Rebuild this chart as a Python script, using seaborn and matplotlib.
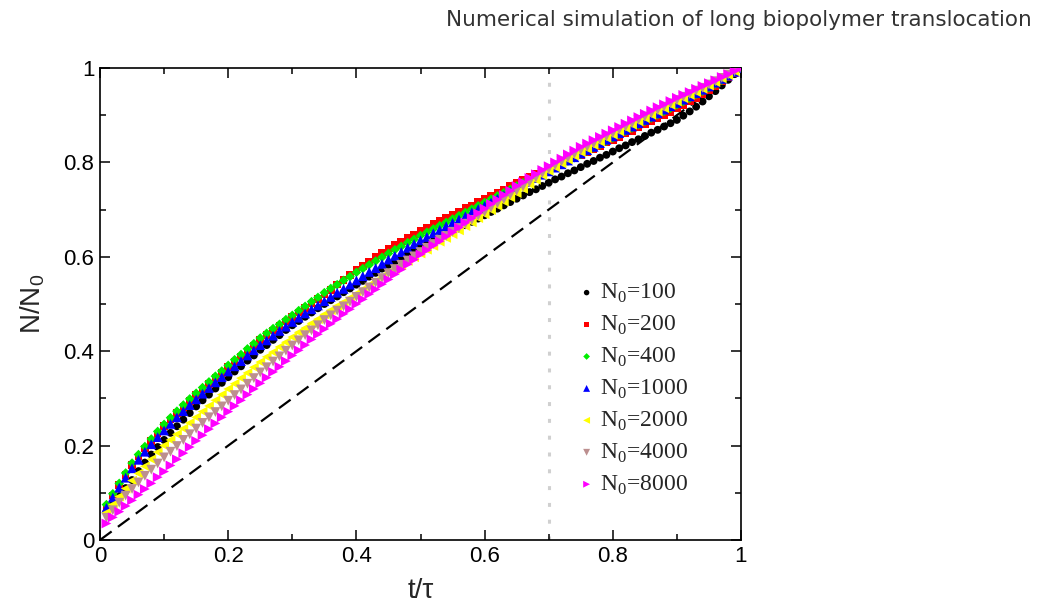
import numpy as np
import pandas as pd
import matplotlib
matplotlib.use("Agg")
import matplotlib.pyplot as plt
import seaborn as sns

# ---------------- data ----------------
t_vals = [round(0.01 * i, 2) for i in range(1, 101)]

n100 = [0.060, 0.076, 0.093, 0.110, 0.127, 0.146, 0.164, 0.181, 0.197, 0.212,
        0.227, 0.241, 0.255, 0.269, 0.283, 0.296, 0.308, 0.321, 0.333, 0.345,
        0.357, 0.368, 0.380, 0.391, 0.403, 0.413, 0.424, 0.434, 0.445, 0.455,
        0.464, 0.473, 0.482, 0.491, 0.500, 0.508, 0.516, 0.525, 0.533, 0.541,
        0.549, 0.558, 0.566, 0.575, 0.583, 0.590, 0.598, 0.605, 0.613, 0.620,
        0.627, 0.633, 0.640, 0.646, 0.653, 0.660, 0.667, 0.674, 0.681, 0.688,
        0.695, 0.702, 0.709, 0.716, 0.723, 0.730, 0.737, 0.743, 0.750, 0.757,
        0.764, 0.770, 0.777, 0.783, 0.790, 0.797, 0.803, 0.810, 0.816, 0.823,
        0.830, 0.836, 0.843, 0.849, 0.856, 0.863, 0.869, 0.876, 0.883, 0.890,
        0.899, 0.908, 0.918, 0.929, 0.940, 0.951, 0.963, 0.975, 0.987, 1.000]

n200 = [0.071, 0.094, 0.116, 0.138, 0.159, 0.177, 0.194, 0.210, 0.226, 0.241,
        0.255, 0.269, 0.282, 0.295, 0.307, 0.319, 0.331, 0.343, 0.354, 0.366,
        0.378, 0.389, 0.401, 0.412, 0.424, 0.434, 0.444, 0.453, 0.463, 0.472,
        0.482, 0.491, 0.501, 0.510, 0.520, 0.530, 0.541, 0.551, 0.562, 0.572,
        0.581, 0.590, 0.599, 0.608, 0.617, 0.625, 0.632, 0.640, 0.647, 0.655,
        0.662, 0.669, 0.676, 0.683, 0.690, 0.696, 0.703, 0.709, 0.716, 0.722,
        0.729, 0.736, 0.743, 0.750, 0.757, 0.763, 0.769, 0.775, 0.781, 0.787,
        0.793, 0.799, 0.804, 0.810, 0.816, 0.822, 0.829, 0.835, 0.842, 0.848,
        0.854, 0.861, 0.867, 0.874, 0.880, 0.887, 0.894, 0.900, 0.907, 0.914,
        0.922, 0.929, 0.937, 0.944, 0.952, 0.962, 0.971, 0.981, 0.990, 1.000]

n400 = [0.075, 0.098, 0.120, 0.142, 0.163, 0.181, 0.198, 0.214, 0.230, 0.245,
        0.259, 0.273, 0.286, 0.299, 0.311, 0.323, 0.335, 0.347, 0.358, 0.370,
        0.382, 0.393, 0.405, 0.416, 0.428, 0.438, 0.448, 0.457, 0.467, 0.476,
        0.486, 0.495, 0.505, 0.514, 0.524, 0.533, 0.541, 0.550, 0.558, 0.567,
        0.575, 0.583, 0.591, 0.599, 0.607, 0.615, 0.622, 0.630, 0.637, 0.645,
        0.652, 0.659, 0.666, 0.673, 0.680, 0.687, 0.694, 0.701, 0.708, 0.715,
        0.722, 0.729, 0.736, 0.743, 0.750, 0.757, 0.763, 0.770, 0.776, 0.783,
        0.790, 0.797, 0.803, 0.810, 0.817, 0.824, 0.831, 0.838, 0.845, 0.852,
        0.859, 0.866, 0.873, 0.880, 0.887, 0.894, 0.901, 0.908, 0.915, 0.922,
        0.929, 0.936, 0.944, 0.951, 0.958, 0.966, 0.974, 0.983, 0.991, 1.000]

n1000 = [0.068, 0.090, 0.111, 0.132, 0.152, 0.170, 0.187, 0.203, 0.218, 0.232,
         0.246, 0.260, 0.273, 0.286, 0.298, 0.310, 0.322, 0.334, 0.345, 0.357,
         0.368, 0.379, 0.391, 0.402, 0.413, 0.423, 0.433, 0.443, 0.452, 0.462,
         0.471, 0.480, 0.489, 0.497, 0.506, 0.515, 0.524, 0.532, 0.541, 0.550,
         0.559, 0.568, 0.576, 0.585, 0.594, 0.602, 0.610, 0.619, 0.627, 0.635,
         0.642, 0.650, 0.657, 0.665, 0.672, 0.679, 0.686, 0.694, 0.701, 0.708,
         0.715, 0.723, 0.730, 0.738, 0.745, 0.752, 0.759, 0.767, 0.774, 0.781,
         0.789, 0.796, 0.804, 0.811, 0.819, 0.826, 0.833, 0.841, 0.848, 0.855,
         0.862, 0.869, 0.876, 0.883, 0.890, 0.897, 0.904, 0.912, 0.919, 0.926,
         0.933, 0.940, 0.947, 0.954, 0.961, 0.969, 0.977, 0.984, 0.992, 1.000]

n2000 = [0.058, 0.075, 0.092, 0.109, 0.126, 0.141, 0.156, 0.171, 0.186, 0.200,
         0.212, 0.224, 0.236, 0.248, 0.260, 0.272, 0.284, 0.296, 0.308, 0.320,
         0.331, 0.343, 0.354, 0.366, 0.377, 0.388, 0.398, 0.409, 0.419, 0.430,
         0.440, 0.449, 0.459, 0.468, 0.478, 0.487, 0.496, 0.504, 0.513, 0.522,
         0.531, 0.540, 0.548, 0.557, 0.566, 0.574, 0.582, 0.591, 0.599, 0.607,
         0.615, 0.623, 0.632, 0.640, 0.648, 0.656, 0.665, 0.673, 0.682, 0.690,
         0.699, 0.708, 0.717, 0.726, 0.735, 0.744, 0.754, 0.763, 0.773, 0.782,
         0.790, 0.798, 0.806, 0.814, 0.822, 0.829, 0.837, 0.844, 0.852, 0.859,
         0.866, 0.873, 0.880, 0.887, 0.894, 0.901, 0.908, 0.915, 0.922, 0.929,
         0.936, 0.943, 0.949, 0.956, 0.963, 0.970, 0.978, 0.985, 0.993, 1.000]

n4000 = [0.047, 0.063, 0.079, 0.094, 0.108, 0.122, 0.136, 0.149, 0.162, 0.175,
         0.187, 0.199, 0.212, 0.224, 0.236, 0.248, 0.260, 0.271, 0.283, 0.295,
         0.307, 0.319, 0.331, 0.343, 0.355, 0.366, 0.378, 0.389, 0.401, 0.412,
         0.423, 0.434, 0.444, 0.455, 0.466, 0.476, 0.486, 0.495, 0.505, 0.515,
         0.525, 0.535, 0.545, 0.555, 0.565, 0.574, 0.583, 0.592, 0.601, 0.610,
         0.619, 0.627, 0.636, 0.644, 0.653, 0.661, 0.670, 0.678, 0.687, 0.695,
         0.704, 0.713, 0.722, 0.731, 0.740, 0.749, 0.758, 0.768, 0.777, 0.786,
         0.794, 0.802, 0.810, 0.818, 0.826, 0.833, 0.840, 0.848, 0.855, 0.862,
         0.869, 0.876, 0.883, 0.890, 0.897, 0.904, 0.911, 0.918, 0.925, 0.932,
         0.939, 0.945, 0.952, 0.958, 0.965, 0.972, 0.979, 0.986, 0.993, 1.000]

n8000 = [0.035, 0.048, 0.060, 0.072, 0.084, 0.096, 0.108, 0.120, 0.133, 0.145,
         0.158, 0.171, 0.184, 0.197, 0.210, 0.222, 0.235, 0.247, 0.260, 0.272,
         0.284, 0.296, 0.308, 0.320, 0.332, 0.344, 0.356, 0.367, 0.379, 0.391,
         0.402, 0.413, 0.425, 0.436, 0.447, 0.458, 0.468, 0.479, 0.489, 0.500,
         0.510, 0.521, 0.531, 0.542, 0.552, 0.563, 0.573, 0.584, 0.594, 0.605,
         0.614, 0.624, 0.633, 0.643, 0.652, 0.662, 0.672, 0.682, 0.692, 0.702,
         0.712, 0.721, 0.731, 0.740, 0.750, 0.758, 0.767, 0.775, 0.784, 0.792,
         0.800, 0.808, 0.817, 0.825, 0.833, 0.840, 0.847, 0.854, 0.861, 0.868,
         0.875, 0.882, 0.889, 0.896, 0.903, 0.910, 0.917, 0.923, 0.930, 0.937,
         0.943, 0.949, 0.956, 0.962, 0.968, 0.974, 0.981, 0.987, 0.994, 1.000]

series_labels = ["100", "200", "400", "1000", "2000", "4000", "8000"]
series_values = [n100, n200, n400, n1000, n2000, n4000, n8000]

ref_t = [0.0, 1.0]          # dashed reference line N/N0 = t/tau
ref_y = [0.0, 1.0]
vline_t = 0.7               # dotted vertical marker

x_ticks = [0, 0.2, 0.4, 0.6, 0.8, 1]
x_ticklabels = ["0", "0.2", "0.4", "0.6", "0.8", "1"]
y_ticks = [0, 0.2, 0.4, 0.6, 0.8, 1]
y_ticklabels = ["0", "0.2", "0.4", "0.6", "0.8", "1"]

title_text = "Numerical simulation of long biopolymer translocation"

# ---------------- styling ----------------
colors = ["#000000", "#ff0000", "#00ee00", "#0000ff", "#ffff00", "#bc8f8f", "#ff00ff"]
markers = ["o", "s", "D", "^", "<", "v", ">"]
sizes = [32, 30, 24, 50, 50, 50, 50]

sns.set_theme(style="ticks")
plt.rcParams["font.family"] = ["Liberation Sans", "DejaVu Sans"]
plt.rcParams["mathtext.fontset"] = "custom"
plt.rcParams["mathtext.rm"] = "Liberation Serif"
plt.rcParams["mathtext.sf"] = "Liberation Sans"

fig = plt.figure(figsize=(10.4, 6.02), dpi=100)
ax = fig.add_axes([100 / 1040, 1 - 540 / 602, 641 / 1040, 472 / 602])

# reference lines
sns.lineplot(x=ref_t, y=ref_y, ax=ax, color="black", lw=1.6, zorder=1,
             estimator=None, sort=False)
ax.lines[-1].set_dashes((6.5, 3.5))
ax.axvline(vline_t, color="#d0d0d0", lw=2.2, dashes=(1.3, 4.2), zorder=0.5)

for i, (lab, vals) in enumerate(zip(series_labels, series_values)):
    df = pd.DataFrame({"t": t_vals, "n": vals})
    sns.scatterplot(data=df, x="t", y="n", ax=ax, marker=markers[i],
                    color=colors[i], s=sizes[i], linewidth=0, edgecolor="none",
                    label=r"N$_0$=" + lab, zorder=2 + i)

ax.set_xlim(0, 1)
ax.set_ylim(0, 1)
ax.set_xticks(x_ticks)
ax.set_xticklabels(x_ticklabels)
ax.set_yticks(y_ticks)
ax.set_yticklabels(y_ticklabels)
ax.set_xticks(np.arange(0.1, 1.0, 0.2), minor=True)
ax.set_yticks(np.arange(0.1, 1.0, 0.2), minor=True)
ax.tick_params(which="both", direction="in", top=True, right=True,
               labelsize=16, colors="black", width=1.1)
ax.tick_params(which="major", length=7.5, pad=4)
ax.tick_params(which="minor", length=4.5)
for sp in ax.spines.values():
    sp.set_linewidth(1.2)
    sp.set_color("black")
    sp.set_visible(True)

ax.set_xlabel("t/τ", fontsize=20, labelpad=8)
ax.set_ylabel(r"N/N$_\mathsf{0}$", fontsize=20, labelpad=12)

leg = ax.legend(loc="upper left", bbox_to_anchor=(563 / 1040, 1 - 270 / 602),
                bbox_transform=fig.transFigure, frameon=False,
                prop={"family": "Liberation Serif", "size": 17},
                handletextpad=0.05, labelspacing=0.37, borderpad=0,
                handlelength=1.0, markerscale=0.7)

fig.text(1032 / 1040, 1 - 20 / 602, title_text, ha="right", va="center",
         fontsize=15.5, color="#333333", family="DejaVu Sans")

fig.savefig("out.png", dpi=100)
